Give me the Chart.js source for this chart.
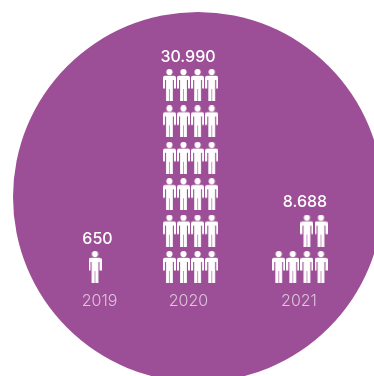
<!DOCTYPE html>
<html>
<head>
<meta charset="utf-8">
<style>
  html, body { margin: 0; padding: 0; background: #fff; overflow: hidden; }
  canvas { display: block; }
</style>
<script src="https://cdn.jsdelivr.net/npm/chart.js@4"></script>
</head>
<body>
<canvas id="chart" width="374" height="376"></canvas>
<script>
const years = ["2019", "2020", "2021"];
const totals = [650, 30990, 8688];
const figures = [1, 24, 6];

// x axis runs in canvas pixels so the uneven group spacing stays simple
const yearCentres = [99.5, 188.5, 299];
const rightColumns = [95, 211.7, 321];
const labelCentres = [97.5, 188, 305];
const columnStep = 14.1;
const perRow = 4;

const purple = "#9c4f96";

function makeFigure() {
  const c = document.createElement("canvas");
  c.width = 13;
  c.height = 32;
  const g = c.getContext("2d");
  g.fillStyle = "#fff";
  g.beginPath();
  g.arc(6.5, 3.1, 3.1, 0, Math.PI * 2);
  g.fill();
  // shoulders and arms, with a gap down each side of the torso
  g.beginPath();
  g.moveTo(2, 6.8);
  g.lineTo(11, 6.8);
  g.quadraticCurveTo(13, 6.8, 13, 9);
  g.lineTo(13, 19.5);
  g.lineTo(11, 19.5);
  g.lineTo(11, 11);
  g.lineTo(9.9, 11);
  g.lineTo(9.9, 32);
  g.lineTo(6.8, 32);
  g.lineTo(6.8, 20);
  g.lineTo(6.2, 20);
  g.lineTo(6.2, 32);
  g.lineTo(3.1, 32);
  g.lineTo(3.1, 11);
  g.lineTo(2, 11);
  g.lineTo(2, 19.5);
  g.lineTo(0, 19.5);
  g.lineTo(0, 9);
  g.quadraticCurveTo(0, 6.8, 2, 6.8);
  g.closePath();
  g.fill();
  return c;
}

const figure = makeFigure();

// one point per figure, rows fill from the bottom and right
function figurePoints(i) {
  const pts = [];
  for (let n = 0; n < figures[i]; n++) {
    pts.push({
      x: rightColumns[i] - (n % perRow) * columnStep,
      y: Math.floor(n / perRow)
    });
  }
  return pts;
}

const backdrop = {
  id: "backdrop",
  beforeDraw(chart) {
    const { ctx } = chart;
    ctx.save();
    ctx.fillStyle = "#fff";
    ctx.fillRect(0, 0, chart.width, chart.height);
    ctx.fillStyle = purple;
    ctx.beginPath();
    ctx.arc(198, 197, 185, 0, Math.PI * 2);
    ctx.fill();
    ctx.restore();
  }
};

const totalsOnTop = {
  id: "totalsOnTop",
  afterDatasetsDraw(chart) {
    const { ctx, scales } = chart;
    ctx.save();
    ctx.font = "500 16px Inter, sans-serif";
    ctx.fillStyle = "#fff";
    ctx.textAlign = "center";
    ctx.textBaseline = "middle";
    totals.forEach((total, i) => {
      const topRow = Math.floor((figures[i] - 1) / perRow);
      ctx.fillText(total.toLocaleString("de-DE"), scales.x.getPixelForValue(labelCentres[i]), scales.y.getPixelForValue(topRow) - 28);
    });
    ctx.restore();
  }
};

new Chart(document.getElementById("chart"), {
  type: "scatter",
  data: {
    datasets: years.map((year, i) => ({
      label: year,
      data: figurePoints(i),
      pointStyle: figure,
      clip: false
    }))
  },
  options: {
    responsive: false,
    animation: false,
    layout: { padding: 0, autoPadding: false },
    plugins: { legend: { display: false }, tooltip: { enabled: false } },
    scales: {
      x: {
        type: "linear",
        min: 0,
        max: 374,
        grid: { display: false, drawTicks: false },
        border: { display: false },
        afterBuildTicks(scale) {
          scale.ticks = yearCentres.map(v => ({ value: v }));
        },
        afterFit(scale) {
          scale.height = 86;
        },
        ticks: {
          autoSkip: false,
          maxRotation: 0,
          padding: 2,
          color: "#dcc3da",
          font: { family: "Inter, sans-serif", size: 16, weight: 300 },
          callback(value) {
            return years[yearCentres.indexOf(value)];
          }
        }
      },
      y: {
        display: false,
        min: -0.632,
        max: 7.335
      }
    }
  },
  plugins: [backdrop, totalsOnTop]
});
</script>
</body>
</html>
